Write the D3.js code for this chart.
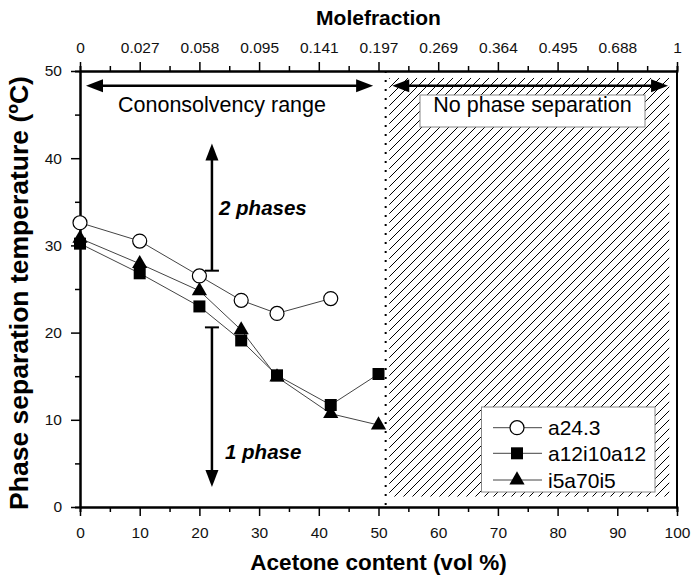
<!DOCTYPE html>
<html>
<head>
<meta charset="utf-8">
<script src="https://cdn.jsdelivr.net/npm/d3@7"></script>
<style>
  body { margin: 0; background: #fff; }
  svg text { font-family: Arial, "Liberation Sans", sans-serif; }
</style>
</head>
<body>
<div id="chart"></div>
<script>
//
// Data
//
var xTicks = [0, 10, 20, 30, 40, 50, 60, 70, 80, 90, 100];
var yTicks = [0, 10, 20, 30, 40, 50];
var moleLabels = ["0", "0.027", "0.058", "0.095", "0.141", "0.197", "0.269", "0.364", "0.495", "0.688", "1"];

var circX = [0, 10, 20, 27, 33, 42];
var circY = [32.6, 30.5, 26.5, 23.7, 22.2, 23.9];

var sqX = [0, 10, 20, 27, 33, 42, 50];
var sqY = [30.2, 26.8, 23.0, 19.1, 15.1, 11.7, 15.25];

var triX = [0, 10, 20, 27, 33, 42, 50];
var triY = [30.8, 27.9, 24.8, 20.3, 14.9, 10.7, 9.4];

var seriesNames = ["a24.3", "a12i10a12", "i5a70i5"];

//
// Layout
//
var width = 692, height = 575;
var margin = {top: 71, right: 15, bottom: 68, left: 80};

var x = d3.scaleLinear().domain([0, 100]).range([margin.left, 677]);
var y = d3.scaleLinear().domain([0, 50]).range([507, margin.top]);

var svg = d3.select("#chart").append("svg")
    .attr("width", width)
    .attr("height", height);

// hatch pattern
var defs = svg.append("defs");
var pat = defs.append("pattern")
    .attr("id", "hatch")
    .attr("patternUnits", "userSpaceOnUse")
    .attr("width", 9)
    .attr("height", 9);
pat.append("path")
    .attr("d", "M-1,10 L10,-1")
    .attr("stroke", "#000")
    .attr("stroke-width", 1);

// hatched region (no phase separation)
svg.append("rect")
    .attr("x", x(51.8))
    .attr("y", y(49.2))
    .attr("width", x(98.7) - x(51.8))
    .attr("height", y(1.2) - y(49.2))
    .attr("fill", "url(#hatch)");

// dotted boundary
svg.append("line")
    .attr("x1", x(51.2)).attr("x2", x(51.2))
    .attr("y1", y(50)).attr("y2", y(0))
    .attr("stroke", "#000")
    .attr("stroke-width", 2)
    .attr("stroke-dasharray", "2,7");

//
// axes
//
function styleAxis(g) {
    g.select(".domain").attr("stroke-width", 2);
    g.selectAll(".tick line").attr("stroke-width", 1.5);
    g.selectAll("text").attr("font-size", "15.5px").attr("fill", "#111")
        .attr("font-family", "Arial, 'Liberation Sans', sans-serif");
}

var minorX = d3.range(5, 100, 10);
var minorY = d3.range(5, 50, 10);

svg.append("g")
    .attr("transform", "translate(0," + y(0) + ")")
    .call(d3.axisBottom(x).tickValues(minorX).tickSize(5).tickFormat(""))
    .call(styleAxis);
svg.append("g")
    .attr("transform", "translate(0," + y(0) + ")")
    .call(d3.axisBottom(x).tickValues(xTicks).tickSizeInner(9).tickSizeOuter(0).tickPadding(11))
    .call(styleAxis);

svg.append("g")
    .attr("transform", "translate(0," + y(50) + ")")
    .call(d3.axisTop(x).tickValues(minorX).tickSize(5).tickFormat(""))
    .call(styleAxis);
svg.append("g")
    .attr("transform", "translate(0," + y(50) + ")")
    .call(d3.axisTop(x).tickValues(xTicks).tickSizeInner(9).tickSizeOuter(0).tickPadding(9)
        .tickFormat(function(d, i) { return moleLabels[i]; }))
    .call(styleAxis);

svg.append("g")
    .attr("transform", "translate(" + x(0) + ",0)")
    .call(d3.axisLeft(y).tickValues(minorY).tickSize(5).tickFormat(""))
    .call(styleAxis);
svg.append("g")
    .attr("transform", "translate(" + x(0) + ",0)")
    .call(d3.axisLeft(y).tickValues(yTicks).tickSizeInner(9).tickSizeOuter(0).tickPadding(9))
    .call(styleAxis);

// right border
svg.append("line")
    .attr("x1", x(100)).attr("x2", x(100))
    .attr("y1", y(50) - 1).attr("y2", y(0) + 1)
    .attr("stroke", "#000").attr("stroke-width", 2);

// axis titles
svg.append("text")
    .attr("x", (x(0) + x(100)) / 2).attr("y", 570)
    .attr("text-anchor", "middle")
    .attr("font-size", "22.5px").attr("font-weight", "bold")
    .text("Acetone content (vol %)");

svg.append("text")
    .attr("x", (x(0) + x(100)) / 2).attr("y", 25)
    .attr("text-anchor", "middle")
    .attr("font-size", "21px").attr("font-weight", "bold")
    .text("Molefraction");

svg.append("text")
    .attr("transform", "translate(28,293) rotate(-90)")
    .attr("text-anchor", "middle")
    .attr("font-size", "26.5px").attr("font-weight", "bold")
    .text("Phase separation temperature (ºC)");

//
// annotations
//
function arrowHead(tipX, tipY, dir) {
    // dir: "l", "r", "u", "d"
    var L = 17, W = 6.5, p;
    if (dir == "l") p = [[tipX, tipY], [tipX + L, tipY - W], [tipX + L, tipY + W]];
    if (dir == "r") p = [[tipX, tipY], [tipX - L, tipY - W], [tipX - L, tipY + W]];
    if (dir == "u") p = [[tipX, tipY], [tipX - W, tipY + L], [tipX + W, tipY + L]];
    if (dir == "d") p = [[tipX, tipY], [tipX - W, tipY - L], [tipX + W, tipY - L]];
    svg.append("path")
        .attr("d", "M" + p.join("L") + "Z")
        .attr("fill", "#000");
}

function hArrow(x0, x1, yv) {
    svg.append("line")
        .attr("x1", x(x0) + 10).attr("x2", x(x1) - 10)
        .attr("y1", y(yv)).attr("y2", y(yv))
        .attr("stroke", "#000").attr("stroke-width", 2.5);
    arrowHead(x(x0), y(yv), "l");
    arrowHead(x(x1), y(yv), "r");
}

hArrow(1.0, 49.1, 48.3);

// no phase separation box
svg.append("rect")
    .attr("x", 420).attr("y", 95)
    .attr("width", 225).attr("height", 32)
    .attr("fill", "#fff")
    .attr("stroke", "#888").attr("stroke-width", 1);

hArrow(52.3, 98.5, 48.3);

svg.append("text")
    .attr("x", 118).attr("y", 111.7)
    .attr("font-size", "21.5px")
    .text("Cononsolvency range");

svg.append("text")
    .attr("x", 532.5).attr("y", 111.7)
    .attr("text-anchor", "middle")
    .attr("font-size", "21.5px")
    .text("No phase separation");

// phase arrows
function vArrow(xv, fromY, toY) {
    var dir = toY > fromY ? "u" : "d";
    svg.append("line")
        .attr("x1", x(xv)).attr("x2", x(xv))
        .attr("y1", y(fromY)).attr("y2", y(toY) + (dir == "u" ? 10 : -10))
        .attr("stroke", "#000").attr("stroke-width", 2.5);
    svg.append("line")
        .attr("x1", x(xv) - 7).attr("x2", x(xv) + 7)
        .attr("y1", y(fromY)).attr("y2", y(fromY))
        .attr("stroke", "#000").attr("stroke-width", 2);
    arrowHead(x(xv), y(toY), dir);
}

vArrow(22.1, 27.1, 41.7);
vArrow(22.1, 20.6, 2.3);

svg.append("text")
    .attr("x", 219).attr("y", 215)
    .attr("font-size", "20.5px").attr("font-weight", "bold").attr("font-style", "italic")
    .text("2 phases");

svg.append("text")
    .attr("x", 225).attr("y", 459)
    .attr("font-size", "20.5px").attr("font-weight", "bold").attr("font-style", "italic")
    .text("1 phase");

//
// series
//
var lineGen = d3.line()
    .x(function(d) { return x(d[0]); })
    .y(function(d) { return y(d[1]); });

var circData = d3.zip(circX, circY);
var sqData = d3.zip(sqX, sqY);
var triData = d3.zip(triX, triY);

[triData, sqData, circData].forEach(function(data) {
    svg.append("path")
        .datum(data)
        .attr("d", lineGen)
        .attr("fill", "none")
        .attr("stroke", "#444")
        .attr("stroke-width", 1);
});

var triSym = d3.symbol().type(d3.symbolTriangle).size(100);
var sqSym = d3.symbol().type(d3.symbolSquare).size(144);

svg.append("g").selectAll("path")
    .data(triData)
    .enter().append("path")
    .attr("d", triSym)
    .attr("transform", function(d) { return "translate(" + x(d[0]) + "," + y(d[1]) + ")"; })
    .attr("fill", "#000");

svg.append("g").selectAll("path")
    .data(sqData)
    .enter().append("path")
    .attr("d", sqSym)
    .attr("transform", function(d) { return "translate(" + x(d[0]) + "," + y(d[1]) + ")"; })
    .attr("fill", "#000");

svg.append("g").selectAll("circle")
    .data(circData)
    .enter().append("circle")
    .attr("cx", function(d) { return x(d[0]); })
    .attr("cy", function(d) { return y(d[1]); })
    .attr("r", 7)
    .attr("fill", "#fff")
    .attr("stroke", "#000")
    .attr("stroke-width", 1.2);

//
// legend
//
var lg = svg.append("g");
lg.append("rect")
    .attr("x", 481.5).attr("y", 407)
    .attr("width", 173.5).attr("height", 85)
    .attr("fill", "#fff")
    .attr("stroke", "#888").attr("stroke-width", 1);

var rowY = [427.7, 453.3, 480];
seriesNames.forEach(function(name, i) {
    lg.append("line")
        .attr("x1", 493).attr("x2", 542)
        .attr("y1", rowY[i]).attr("y2", rowY[i])
        .attr("stroke", "#444").attr("stroke-width", 1);
    if (i == 0) {
        lg.append("circle")
            .attr("cx", 517).attr("cy", rowY[i]).attr("r", 7)
            .attr("fill", "#fff").attr("stroke", "#000").attr("stroke-width", 1.2);
    } else {
        lg.append("path")
            .attr("d", i == 1 ? sqSym : triSym)
            .attr("transform", "translate(517," + rowY[i] + ")")
            .attr("fill", "#000");
    }
    lg.append("text")
        .attr("x", 548).attr("y", rowY[i] + 7.5)
        .attr("font-size", "21px")
        .text(name);
});
</script>
</body>
</html>
